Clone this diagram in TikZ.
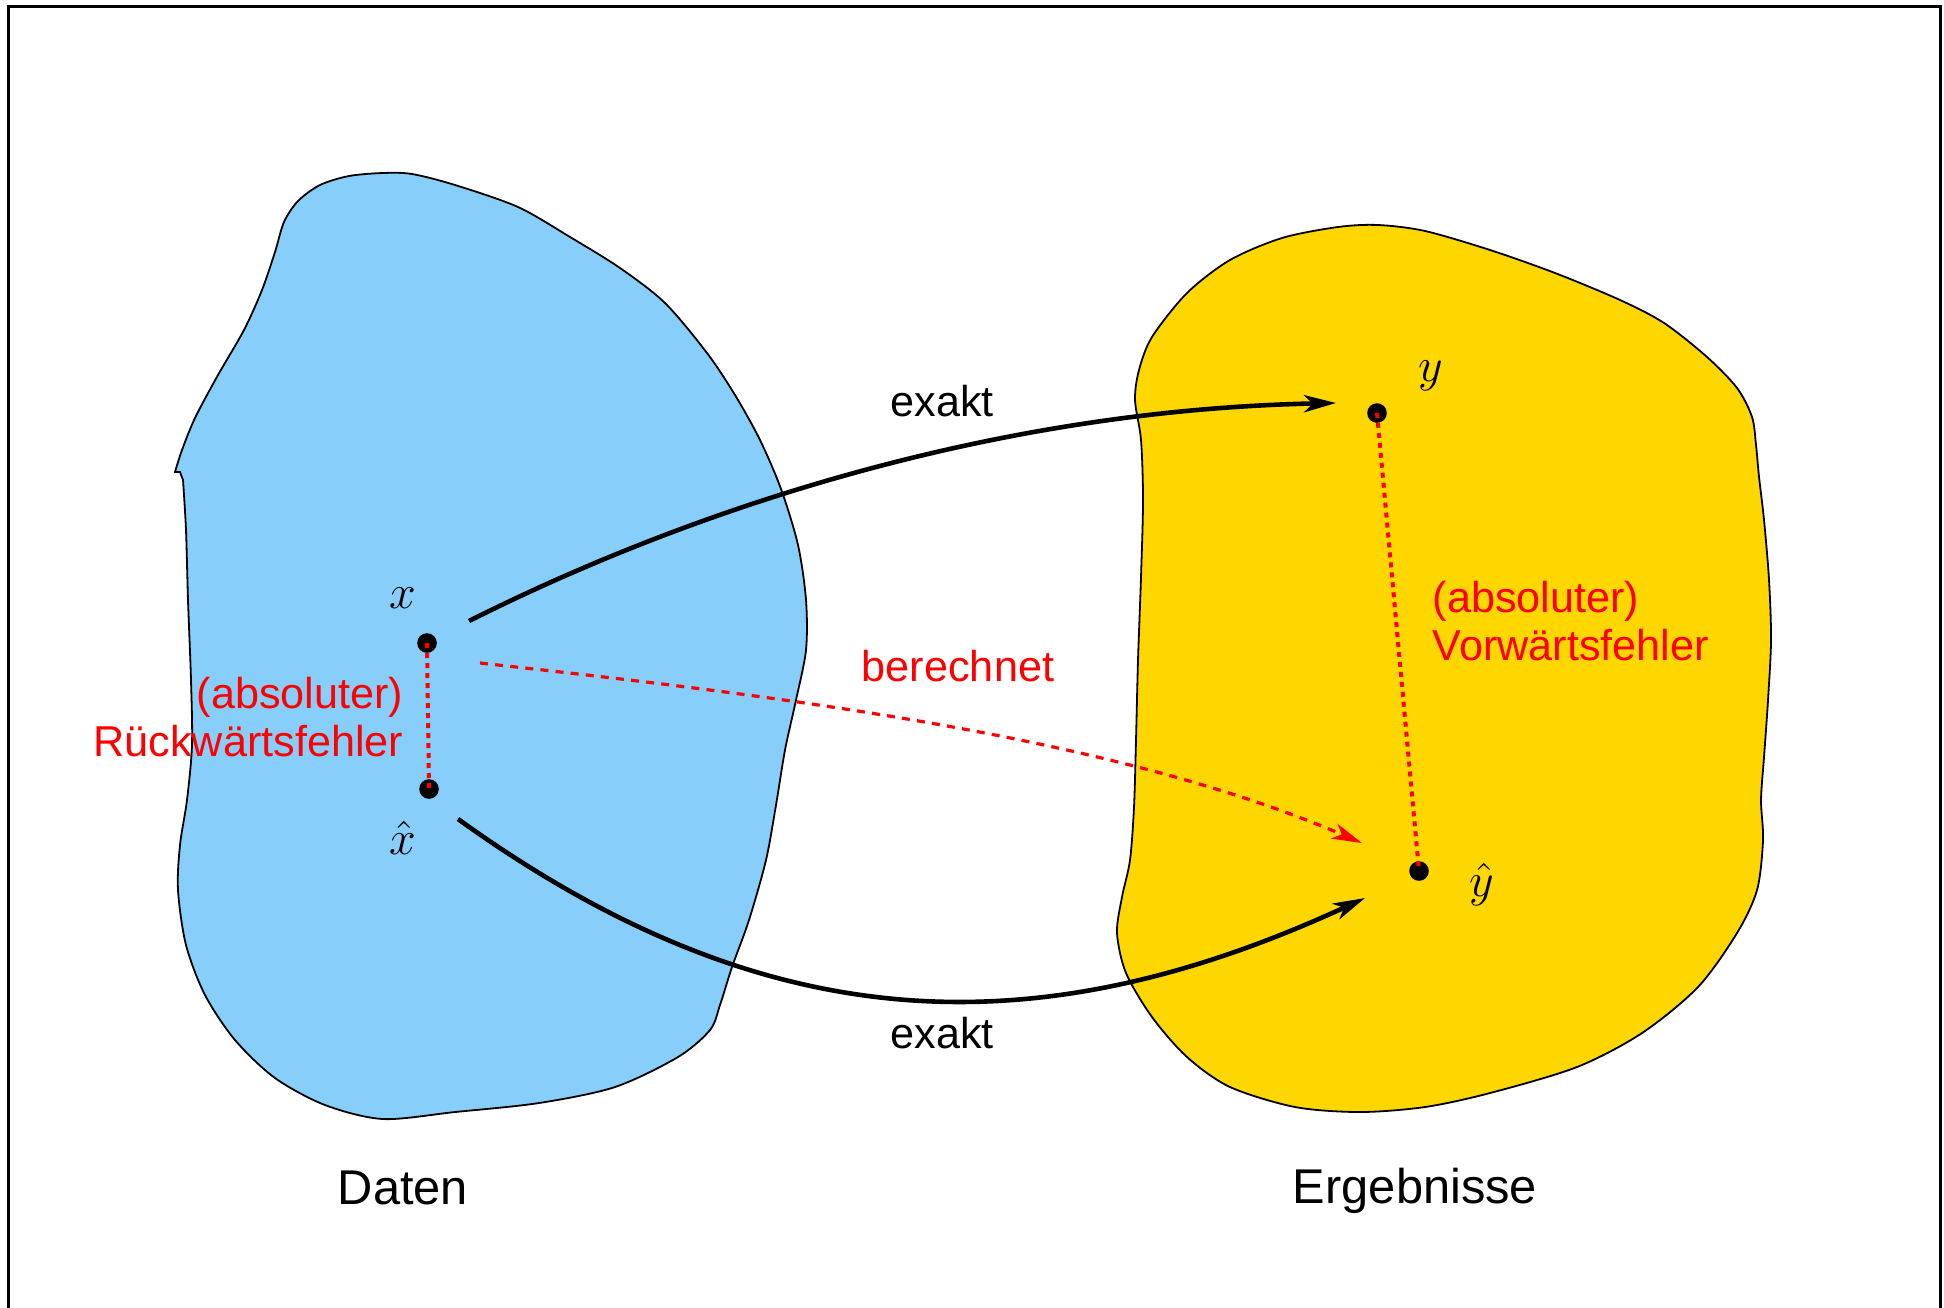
\documentclass[tikz,border=0pt]{standalone}
\usepackage{fontspec}
\setmainfont{Liberation Sans}
\usetikzlibrary{arrows.meta}
\definecolor{blobblue}{RGB}{135,206,250}
\definecolor{blobgold}{RGB}{255,215,0}
\begin{document}
\begin{tikzpicture}[x=0.25pt,y=-0.25pt,
  blob/.style={draw=black, line width=0.45pt},
  dotpt/.style={circle, fill=black, inner sep=0pt, minimum size=4.9pt},
  mathlbl/.style={inner sep=0pt, font=\fontsize{11.5}{14}\selectfont},
  txt/.style={inner sep=0pt, font=\fontsize{10.8}{12}\selectfont},
  bigtxt/.style={inner sep=0pt, font=\fontsize{12.2}{14}\selectfont},
  redtxt/.style={txt, text=red},
  exactarrow/.style={line width=1.15pt, -{Stealth[length=8pt,width=4.3pt,inset=2.2pt]}},
  computed/.style={red, line width=0.8pt, dash pattern=on 2pt off 1.8pt, -{Stealth[length=7.5pt,width=4pt,inset=2pt]}},
  errline/.style={red, line width=1pt, dash pattern=on 1.25pt off 1.25pt}
]
\useasboundingbox (0,0) rectangle (1944,1307);
\clip (0,0) rectangle (1944,1307);
\draw[line width=0.75pt] (8,1320) -- (8,6) -- (1940,6) -- (1940,1320);

% Data set
\draw[blob, fill=blobblue] plot[smooth, tension=0.5] coordinates {
 (183,480) (186,530) (188,600) (191,680) (192,745) (187,800) (180,845) (178,890)
 (186,945) (205,995) (235,1040) (275,1078) (325,1105) (383,1119) (455,1112)
 (539,1103) (615,1087) (678,1057) (710,1030) (720,1005) (732,967) (749,920)
 (766,860) (776,805) (785,750) (796,700) (806,650) (806,600) (798,545) (781,489)
 (760,440) (735,395) (707,353) (665,303) (620,268) (570,237) (518,207) (455,185)
 (412,174) (383,173) (349,176) (320,185) (298,201) (284,222) (275,252) (262,290)
 (244,330) (218,375) (195,418) (182,450) (175,472)}
 -- (180,472) -- cycle;

% Result set
\draw[blob, fill=blobgold] plot[smooth cycle, tension=0.5] coordinates {
 (1135,400) (1141,440) (1143,500) (1141,577) (1138,660) (1136,740) (1134,807)
 (1130,860) (1122,897) (1117,933) (1126,973) (1152,1017) (1187,1057) (1230,1087)
 (1295,1107) (1360,1112) (1425,1107) (1490,1093) (1577,1067) (1642,1033)
 (1698,987) (1737,933) (1757,890) (1763,840) (1761,800) (1764,757) (1768,700)
 (1771,640) (1769,580) (1764,520) (1759,477) (1756,445) (1752,417) (1737,388)
 (1707,357) (1664,323) (1620,300) (1555,273) (1490,250) (1425,231) (1378,225)
 (1338,227) (1282,238) (1230,260) (1187,293) (1152,337) (1139,370)};

% points
\node[dotpt] (x) at (427,643) {};
\node[dotpt] (xh) at (429,789) {};
\node[dotpt] (y) at (1377,413) {};
\node[dotpt] (yh) at (1419,871) {};

\node[mathlbl] (xl) at (403,598) {$x$};
\node[mathlbl] (xhl) at (403,838) {$\hat{x}$};
\node[mathlbl] (yl) at (1431,376) {$y$};
\node[mathlbl] (yhl) at (1482,884) {$\hat{y}$};

% arrow ends
\coordinate (ua0) at (469,621);
\coordinate (ua1) at (1336,403);
\coordinate (la0) at (458,819);
\coordinate (la1) at (1365,898);
\coordinate (ca0) at (480,663);
\coordinate (ca1) at (1362,843);

\draw[exactarrow] (ua0) .. controls (700,505) and (1000,410) .. (ua1);
\draw[exactarrow] (la0) .. controls (765,1040) and (1035,1050) .. (la1);
\draw[computed] (ca0) .. controls (780,696) and (1112,736) .. (ca1);

\draw[errline] (x.center) -- (xh.center);
\draw[errline] (y.center) -- (yh.center);

% labels
\node[txt] (ex1) at (942,401) {exakt};
\node[txt] (ex2) at (942,1033) {exakt};
\node[redtxt] (ber) at (958,666) {berechnet};
\node[redtxt, anchor=east, align=right] (rf) at (404,717) {(absoluter)\\Rückwärtsfehler};
\node[redtxt, anchor=west, align=left] (vf) at (1432,621) {(absoluter)\\Vorwärtsfehler};
\node[bigtxt] (dat) at (403,1188) {Daten};
\node[bigtxt] (erg) at (1415,1191) {Ergebnisse};
\end{tikzpicture}
\end{document}
